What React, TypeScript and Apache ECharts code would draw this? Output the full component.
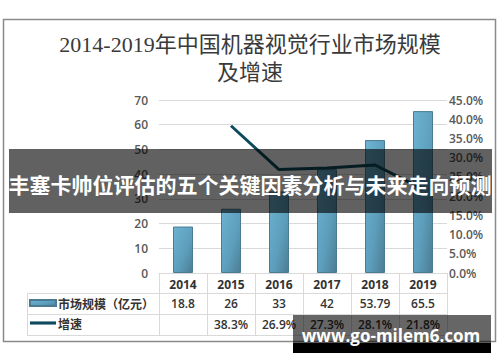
import React, { useEffect, useRef } from "react";
import * as echarts from "echarts";

const years = ["2014", "2015", "2016", "2017", "2018", "2019"];
const marketSize = [18.8, 26, 33, 42, 53.79, 65.5];
const growth: (number | null)[] = [null, 38.3, 26.9, 27.3, 28.1, 21.8];
const sizeName = "市场规模（亿元）";
const growthName = "增速";
const titleLines = ["2014-2019年中国机器视觉行业市场规模", "及增速"];
const bannerText = "丰塞卡帅位评估的五个关键因素分析与未来走向预测";
const watermarkText = "www.go-milem6.com";

const sizeLabels = marketSize.map((v) => String(v));
const growthLabels = growth.map((v) => (v == null ? "" : v.toFixed(1) + "%"));

export default function App() {
  const ref = useRef<HTMLDivElement>(null);
  useEffect(() => {
    if (!ref.current) return;
    const chart = echarts.init(ref.current, undefined, { renderer: "svg" });
    const gridColor = "#d9d9d9";
    const labelFont = "'Open Sans', 'Noto Sans CJK SC', sans-serif";
    const cjkFont = "'Noto Sans CJK SC', sans-serif";
    const lineColor = "#0e4a5e";
    const tableLine = (x1: number, y1: number, x2: number, y2: number) => ({
      type: "line",
      shape: { x1, y1, x2, y2 },
      style: { stroke: gridColor, lineWidth: 1 },
      silent: true,
    });
    const barColor = new echarts.graphic.LinearGradient(0, 0, 1, 1, [
      { offset: 0, color: "#6db3d2" },
      { offset: 0.6, color: "#5c9dbb" },
      { offset: 1, color: "#4c7c92" },
    ]);
    chart.setOption({
      animation: false,
      backgroundColor: "#fff",
      grid: { left: 159, right: 53, top: 100, bottom: 89, containLabel: false },
      legend: {
        orient: "vertical",
        left: 29,
        top: 297,
        padding: 0,
        itemWidth: 26,
        itemHeight: 6,
        itemGap: 8,
        data: [
          { name: sizeName, icon: "rect" },
          { name: growthName, icon: "path://M0 0H100V12H0Z", itemStyle: { color: lineColor } },
        ],
        textStyle: { fontSize: 12, fontWeight: "bold", color: "#333", fontFamily: cjkFont, padding: [0, 0, 0, -3] },
      },
      xAxis: [
        {
          type: "category",
          data: years,
          position: "bottom",
          axisLine: { show: true, lineStyle: { color: gridColor } },
          axisTick: { show: true, length: 62, lineStyle: { color: gridColor } },
          axisLabel: { margin: 5, fontSize: 12, fontWeight: "bold", color: "#333", fontFamily: labelFont },
        },
        {
          type: "category",
          data: sizeLabels,
          position: "bottom",
          axisLine: { show: false },
          axisTick: { show: false },
          axisLabel: { margin: 24, fontSize: 12, fontWeight: 600, color: "#333", fontFamily: labelFont },
        },
        {
          type: "category",
          data: growthLabels,
          position: "bottom",
          axisLine: { show: false },
          axisTick: { show: false },
          axisLabel: { margin: 45, fontSize: 12, fontWeight: 600, color: "#333", fontFamily: labelFont },
        },
      ],
      yAxis: [
        {
          type: "value",
          min: 0,
          max: 70,
          interval: 10,
          axisLine: { show: false },
          axisTick: { show: false },
          splitLine: { lineStyle: { color: gridColor } },
          axisLabel: { margin: 11, fontSize: 12, fontWeight: 600, color: "#595959", fontFamily: labelFont },
        },
        {
          type: "value",
          min: 0,
          max: 45,
          interval: 5,
          axisLine: { show: false },
          axisTick: { show: false },
          splitLine: { show: false },
          axisLabel: {
            margin: 2,
            fontSize: 12,
            fontWeight: 600,
            color: "#595959",
            fontFamily: labelFont,
            formatter: (v: number) => v.toFixed(1) + "%",
          },
        },
      ],
      series: [
        {
          name: sizeName,
          type: "bar",
          data: marketSize,
          barWidth: 20,
          itemStyle: { color: barColor, borderColor: "#4a7b92", borderWidth: 1 },
        },
        {
          name: growthName,
          type: "line",
          yAxisIndex: 1,
          data: growth.map((v) => (v == null ? "-" : v)),
          symbol: "none",
          lineStyle: { color: lineColor, width: 3 },
          itemStyle: { color: lineColor },
          z: 5,
        },
      ],
      graphic: [
        {
          type: "rect",
          shape: { x: 3.5, y: 19.5, width: 492, height: 322 },
          style: { fill: "none", stroke: "#8a8a8a", lineWidth: 1.5 },
          silent: true,
          z: 1,
        },
        {
          type: "text",
          x: 250,
          y: 44,
          style: {
            text: titleLines[0],
            fontSize: 22,
            fontFamily: "'Liberation Serif', 'Noto Sans CJK SC', serif",
            fill: "#3a3a3a",
            align: "center",
            verticalAlign: "middle",
          },
        },
        {
          type: "text",
          x: 250,
          y: 72,
          style: {
            text: titleLines[1],
            fontSize: 22,
            fontFamily: "'Liberation Serif', 'Noto Sans CJK SC', serif",
            fill: "#3a3a3a",
            align: "center",
            verticalAlign: "middle",
          },
        },
        tableLine(27, 293.5, 447, 293.5),
        tableLine(27, 314.5, 447, 314.5),
        tableLine(27, 335.5, 447, 335.5),
        tableLine(27.5, 293, 27.5, 336),
        {
          type: "rect",
          shape: { x: 9, y: 149, width: 483, height: 64 },
          style: { fill: "rgba(0,0,0,0.62)" },
          z: 100,
        },
        {
          type: "text",
          x: 250,
          y: 184,
          z: 101,
          style: {
            text: bannerText,
            fontSize: 21,
            fontWeight: "bold",
            fontFamily: cjkFont,
            fill: "#fff",
            align: "center",
            verticalAlign: "middle",
          },
        },
        {
          type: "rect",
          shape: { x: 293, y: 315, width: 198, height: 38 },
          style: { fill: "rgba(0,0,0,0.6)" },
          z: 100,
        },
        {
          type: "rect",
          shape: { x: 293, y: 343, width: 198, height: 10 },
          style: { fill: "#000" },
          z: 100,
        },
        {
          type: "text",
          x: 391,
          y: 335,
          z: 101,
          style: {
            text: watermarkText,
            fontSize: 17,
            fontWeight: "bold",
            fontFamily: "'Open Sans', sans-serif",
            fill: "#fff",
            align: "center",
            verticalAlign: "middle",
          },
        },
      ],
    });
    return () => chart.dispose();
  }, []);
  return <div ref={ref} style={{ position: "fixed", left: 0, top: 0, width: 500, height: 362 }} />;
}
